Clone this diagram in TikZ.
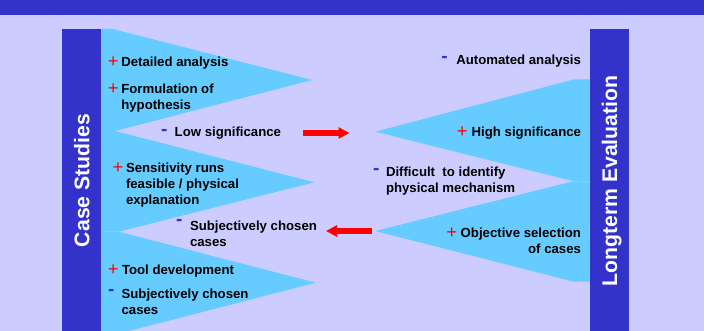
\documentclass[tikz,border=0pt]{standalone}
\usepackage{fontspec}
\setmainfont{Liberation Sans}
\usetikzlibrary{arrows.meta}
\definecolor{bgc}{HTML}{CCCCFF}
\definecolor{barc}{HTML}{3333CC}
\definecolor{tric}{HTML}{66CCFF}
\definecolor{redc}{HTML}{FF0000}
\tikzset{
 txt/.style={inner sep=0pt, outer sep=0pt, font=\fontsize{13.2}{16}\selectfont\bfseries, text=black},
 plusm/.style={inner sep=0pt, outer sep=0pt, font=\fontsize{18.5}{18.5}\selectfont, text=redc},
 minusm/.style={inner sep=0pt, outer sep=0pt, font=\fontsize{19}{19}\selectfont\bfseries, text=barc},
 bartxt/.style={inner sep=0pt, outer sep=0pt, font=\fontsize{21.2}{24}\selectfont\bfseries, text=white, rotate=90, anchor=base},
 tri/.style={fill=tric, draw=none},
 barfill/.style={fill=barc, draw=none},
 bigarrow/.style={draw=redc, line width=5.5pt, -{Triangle[length=11pt,width=11pt]}}
}
\newcommand{\mlines}[1]{\begin{tabular}[t]{@{}l@{}}#1\end{tabular}}
\newcommand{\mrlines}[1]{\begin{tabular}[t]{@{}r@{}}#1\end{tabular}}
\begin{document}
\begin{tikzpicture}[x=1pt,y=-1pt]
\fill[bgc] (0,0) rectangle (704,331);
\useasboundingbox (0,0) rectangle (704,331);
\fill[barfill] (0,0) rectangle (704,15);
% left triangles
\fill[tri] (101,29) -- (113,29) -- (312,80) -- (115,131) -- (101,131) -- cycle;
\fill[tri] (101,131) -- (115,131) -- (314.3,182.3) -- (118.7,231.7) -- (101,231.7) -- cycle;
\fill[tri] (101,231.7) -- (118.7,231.7) -- (315.7,282.7) -- (129,331) -- (101,331) -- cycle;
% right triangles
\fill[tri] (589.7,79.5) -- (573.7,79.5) -- (375.3,131.7) -- (572.5,181) -- (589.7,181) -- cycle;
\fill[tri] (589.7,181.5) -- (572.5,181.5) -- (375.3,231) -- (573.7,281.7) -- (589.7,281.7) -- cycle;
% bars
\fill[barfill] (61.5,29) rectangle (101,331);
\fill[barfill] (589.7,29) rectangle (629,331);
\node[bartxt] (cs) at (89.3,180.5) {Case Studies};
\node[bartxt] (le) at (617,181) {Longterm Evaluation};
% left texts
\node[plusm] (p1) at (113.3,62) {+};
\node[txt, anchor=base west] (t1) at (121.3,66.5) {Detailed analysis};
\node[plusm] (p2) at (113.3,89) {+};
\node[txt, anchor=base west] (t2) at (121.3,94) {\mlines{Formulation of\\hypothesis}};
\node[minusm] (m1) at (164.2,132.2) {-};
\node[txt, anchor=base west] (t3) at (174.7,137) {Low significance};
\node[plusm] (p3) at (118,168) {+};
\node[txt, anchor=base west] (t4) at (126,172.7) {\mlines{Sensitivity runs\\feasible / physical\\explanation}};
\node[minusm] (m2) at (179.2,222.8) {-};
\node[txt, anchor=base west] (t5) at (190,230.7) {\mlines{Subjectively chosen\\cases}};
\node[plusm] (p4) at (113.3,270) {+};
\node[txt, anchor=base west] (t6) at (122,274.3) {Tool development};
\node[minusm] (m3) at (111.2,292.2) {-};
\node[txt, anchor=base west] (t7) at (121.6,298) {\mlines{Subjectively chosen\\cases}};
% right texts
\node[minusm] (m4) at (444.5,59.7) {-};
\node[txt, anchor=base east] (t8) at (581,65) {Automated analysis};
\node[plusm] (p5) at (462.3,131.7) {+};
\node[txt, anchor=base east] (t9) at (581,137) {High significance};
\node[minusm] (m5) at (376.2,171.2) {-};
\node[txt, anchor=base west] (t10) at (386,177) {\mlines{Difficult\ \ to identify\\physical mechanism}};
\node[plusm] (p6) at (451.7,232.7) {+};
\node[txt, anchor=base east] (t11) at (581,237.7) {\mrlines{Objective selection\\of cases}};
% arrows
\coordinate (ra) at (303,133);
\coordinate (rb) at (349.5,133);
\coordinate (la) at (372,231);
\coordinate (lb) at (326,231);
\draw[bigarrow] (ra) -- (rb);
\draw[bigarrow] (la) -- (lb);
\end{tikzpicture}
\end{document}
